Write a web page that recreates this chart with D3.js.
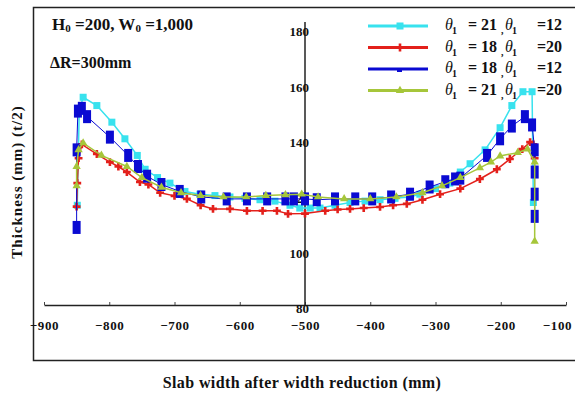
<!DOCTYPE html>
<html>
<head>
<meta charset="utf-8">
<script src="https://cdn.jsdelivr.net/npm/d3@7"></script>
<style>
  body { margin: 0; background: #fff; }
  svg { display: block; }
  text { font-family: "Liberation Serif", "DejaVu Serif", serif; font-weight: bold; }
</style>
</head>
<body>
<svg id="chart" width="575" height="399"></svg>
<script>
// tick labels
const xTicks = [-900, -800, -700, -600, -500, -400, -300, -200, -100];
const yTicks = [80, 100, 120, 140, 160, 180];

// theta1 = 21, theta2 = 12
const cyanX = [-849, -846, -840, -819, -796, -776, -757, -745, -726, -707, -684, -661, -638, -615, -592, -569, -546, -523, -508, -492, -477, -454, -431, -408, -385, -362, -340, -324, -300, -278, -262, -247, -224, -201, -183, -166, -152, -150];
const cyanY = [116, 150, 155, 152, 146, 140, 134, 129, 126, 124, 121, 120, 119.5, 119, 118.5, 118, 117.5, 116, 115, 115, 115, 116, 117, 117.5, 118, 118.5, 119, 120, 122, 124, 128, 131, 136, 144, 152, 157, 157, 117];

// theta1 = 18, theta2 = 20
const redX = [-850, -849, -847, -842, -819, -799, -786, -773, -753, -740, -722, -700, -681, -660, -641, -615, -589, -565, -543, -526, -500, -469, -450, -431, -410, -385, -365, -344, -320, -293, -262, -232, -206, -186, -167, -155, -150, -148];
const redY = [115.5, 124, 133, 138, 134.5, 131.6, 130, 128, 124.4, 123.5, 120.5, 119.4, 118.3, 116, 114.7, 114.7, 114, 114, 114, 112.9, 113, 114, 114.5, 114.7, 115, 115.4, 116, 116.5, 118, 120, 122, 125.5, 129, 132.7, 136.3, 138.8, 138, 133];

// theta1 = 18, theta2 = 12
const blueX = [-850, -850, -848, -842, -834, -799, -771, -756, -742, -720, -692, -659, -620, -589, -558, -530, -517, -500, -482, -454, -423, -397, -368, -339, -309, -285, -270, -262, -221, -201, -183, -163, -152, -148, -148, -148, -148];
const blueY = [108, 136, 150, 151, 148, 140.6, 134, 130, 126.5, 123.5, 121, 119, 118.3, 118.3, 118.3, 118.3, 118.3, 118.3, 118, 118.3, 118.3, 118.3, 119, 120, 122.6, 124.5, 125.5, 125.8, 134, 140, 144.6, 148, 145, 136, 128, 120, 112];

// theta1 = 21, theta2 = 20
const greenX = [-850, -850, -847, -840, -812, -773, -750, -720, -690, -660, -625, -590, -560, -530, -505, -480, -440, -400, -360, -320, -290, -262, -232, -215, -201, -174, -159, -148, -148];
const greenY = [123, 130, 136, 138.5, 134, 130, 126, 122.5, 120.5, 119.5, 119, 119, 119.5, 119.8, 120, 119, 118.3, 118.3, 119, 120.5, 123, 126, 129.5, 131.6, 133.8, 135, 136.3, 131.6, 103];

const series = [
  { name: ["21", "12"], color: "#38e2ee", marker: "square", lw: 1.5, xs: cyanX, ys: cyanY },
  { name: ["18", "20"], color: "#e3201b", marker: "cross", lw: 1.5, xs: redX, ys: redY },
  { name: ["18", "12"], color: "#0a0ad2", marker: "rect", lw: 1, xs: blueX, ys: blueY },
  { name: ["21", "20"], color: "#a6c63a", marker: "triangle", lw: 1.5, xs: greenX, ys: greenY }
];

const svg = d3.select("#chart");

// outer frame (runs off the right edge)
svg.append("rect")
  .attr("x", 33.5).attr("y", 7.5)
  .attr("width", 560).attr("height", 353)
  .attr("fill", "none").attr("stroke", "#222").attr("stroke-width", 1.5);

const x = d3.scaleLinear().domain([-900, -100]).range([44, 566]);
const y = d3.scaleLinear().domain([80, 180]).range([305, 28]);

// x axis
const gx = svg.append("g")
  .attr("transform", "translate(0," + y(80) + ")")
  .call(d3.axisBottom(x).tickValues(xTicks).tickSizeInner(-3).tickSizeOuter(0).tickPadding(16).tickFormat(d3.format("d")));
gx.select(".domain").attr("stroke", "#222").attr("stroke-width", 1.5);
gx.selectAll(".tick line").attr("stroke", "#444");
gx.selectAll("text").attr("font-size", 13).attr("letter-spacing", "0.6").attr("fill", "#111")
  .attr("font-family", "Liberation Serif").attr("font-weight", "bold")
  .attr("dx", d => d === -100 ? -9 : 0);

// y axis sits at x = -500
const gy = svg.append("g")
  .attr("transform", "translate(" + x(-500) + ",0)")
  .call(d3.axisLeft(y).tickValues(yTicks).tickSize(0).tickPadding(-4).tickFormat(d3.format("d")));
gy.select(".domain").attr("d", "M0," + (y(80)) + "V" + (y(180) - 6)).attr("stroke", "#222").attr("stroke-width", 1.5);
gy.selectAll("text").attr("font-size", 13).attr("fill", "#111").attr("dy", "0.6em")
  .attr("font-family", "Liberation Serif").attr("font-weight", "bold");

// axis titles
svg.append("text")
  .attr("x", 302).attr("y", 388)
  .attr("text-anchor", "middle").attr("font-size", 16).attr("fill", "#111")
  .attr("letter-spacing", "0.4")
  .text("Slab width after width reduction (mm)");

svg.append("text")
  .attr("transform", "translate(22,182) rotate(-90)")
  .attr("text-anchor", "middle").attr("font-size", 15).attr("fill", "#111")
  .attr("letter-spacing", "1")
  .text("Thickness (mm) (t/2)");

// annotations
const note1 = svg.append("text").attr("x", 52).attr("y", 30).attr("font-size", 17).attr("fill", "#111");
note1.append("tspan").text("H");
note1.append("tspan").attr("font-size", 11).attr("dy", 2).text("0");
note1.append("tspan").attr("dy", -2).text(" =200, W");
note1.append("tspan").attr("font-size", 11).attr("dy", 2).text("0");
note1.append("tspan").attr("dy", -2).text(" =1,000");

svg.append("text").attr("x", 50).attr("y", 68).attr("font-size", 16).attr("fill", "#111")
  .text("ΔR=300mm");

// markers
function drawMarker(g, kind, cx, cy, color) {
  if (kind === "square") {
    g.append("rect").attr("x", cx - 3.5).attr("y", cy - 3.5).attr("width", 7).attr("height", 7).attr("fill", color);
  } else if (kind === "rect") {
    g.append("rect").attr("x", cx - 4).attr("y", cy - 6.5).attr("width", 8).attr("height", 13).attr("fill", color);
  } else if (kind === "cross") {
    g.append("path").attr("d", d3.symbol(d3.symbolCross, 34)()).attr("transform", "translate(" + cx + "," + cy + ")").attr("fill", color);
  } else if (kind === "triangle") {
    g.append("path").attr("d", d3.symbol(d3.symbolTriangle, 30)()).attr("transform", "translate(" + cx + "," + cy + ")").attr("fill", color);
  }
}

const line = d3.line().x(d => x(d[0])).y(d => y(d[1]));

series.forEach(s => {
  const pts = s.xs.map((v, i) => [v, s.ys[i]]);
  const g = svg.append("g");
  g.append("path").datum(pts).attr("d", line)
    .attr("fill", "none").attr("stroke", s.color).attr("stroke-width", s.lw);
  pts.forEach(p => drawMarker(g, s.marker, x(p[0]), y(p[1]), s.color));
});

// legend
const legendY = [26, 47.5, 69, 90.5];
series.forEach((s, i) => {
  const ly = legendY[i];
  const g = svg.append("g");
  g.append("line").attr("x1", 368).attr("x2", 428).attr("y1", ly).attr("y2", ly)
    .attr("stroke", s.color).attr("stroke-width", 3);
  if (s.marker === "rect") {
    g.append("rect").attr("x", 397).attr("y", ly - 1).attr("width", 5).attr("height", 4).attr("fill", s.color);
  } else {
    drawMarker(g, s.marker, 400, ly, s.color);
  }
  const t = g.append("text").attr("y", ly + 4).attr("font-size", 16).attr("fill", "#111");
  t.append("tspan").attr("x", 445).attr("font-style", "italic").attr("font-weight", "normal").text("θ");
  t.append("tspan").attr("x", 452).attr("dy", 4).attr("font-size", 10).text("1");
  t.append("tspan").attr("x", 468).attr("dy", -4).text("= " + s.name[0]);
  t.append("tspan").attr("x", 501).attr("dy", 4).attr("font-size", 10).text(",");
  t.append("tspan").attr("x", 505).attr("dy", -4).attr("font-style", "italic").attr("font-weight", "normal").text("θ");
  t.append("tspan").attr("x", 512).attr("dy", 4).attr("font-size", 10).text("1");
  t.append("tspan").attr("x", 537).attr("dy", -4).text("=" + s.name[1]);
});
</script>
</body>
</html>
